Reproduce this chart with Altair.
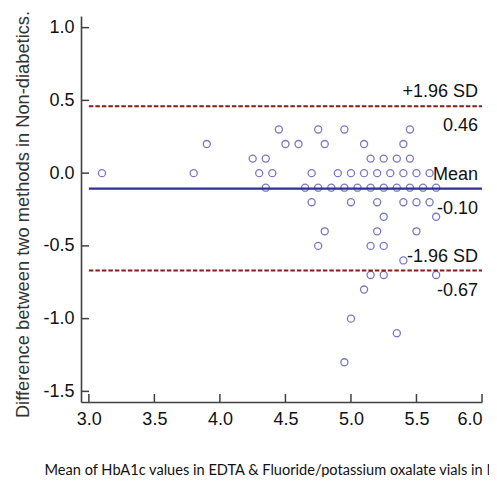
import altair as alt
import pandas as pd

# ---- data ----
pts_x = [4.45, 4.75, 4.95, 5.45,
         3.9, 4.5, 4.6, 4.8, 5.1, 5.4,
         4.25, 4.35, 5.15, 5.25, 5.35, 5.45,
         3.1, 3.8, 4.3, 4.4, 4.7, 4.9, 5.0, 5.1, 5.2, 5.3, 5.4, 5.5, 5.6,
         4.35, 4.65, 4.75, 4.85, 4.95, 5.05, 5.15, 5.25, 5.35, 5.45, 5.55, 5.65,
         4.7, 5.0, 5.2, 5.4, 5.5, 5.6,
         5.25, 5.65,
         4.8, 5.2, 5.5,
         4.75, 5.15, 5.25,
         5.4,
         5.15, 5.25, 5.65,
         5.1,
         5.0,
         5.35,
         4.95]
pts_y = [0.3, 0.3, 0.3, 0.3,
         0.2, 0.2, 0.2, 0.2, 0.2, 0.2,
         0.1, 0.1, 0.1, 0.1, 0.1, 0.1,
         0.0, 0.0, 0.0, 0.0, 0.0, 0.0, 0.0, 0.0, 0.0, 0.0, 0.0, 0.0, 0.0,
         -0.1, -0.1, -0.1, -0.1, -0.1, -0.1, -0.1, -0.1, -0.1, -0.1, -0.1, -0.1,
         -0.2, -0.2, -0.2, -0.2, -0.2, -0.2,
         -0.3, -0.3,
         -0.4, -0.4, -0.4,
         -0.5, -0.5, -0.5,
         -0.6,
         -0.7, -0.7, -0.7,
         -0.8,
         -1.0,
         -1.1,
         -1.3]

mean_val = -0.107
limit_vals = [0.46, -0.67]
line_x_start = 3.0
line_x_end = 6.0

label_texts = ["+1.96 SD", "0.46", "Mean", "-0.10", "-1.96 SD", "-0.67"]
label_y = [0.46, 0.46, mean_val, mean_val, -0.67, -0.67]
label_pos = ["above", "below", "above", "below", "above", "below"]

x_ticks = [3.0, 3.5, 4.0, 4.5, 5.0, 5.5, 6.0]
y_ticks = [1.0, 0.5, 0.0, -0.5, -1.0, -1.5]

x_title = "Mean of HbA1c values in EDTA & Fluoride/potassium oxalate vials in Non-diabetics."
y_title = "Difference between two methods in Non-diabetics."

# ---- layout ----
W, H = 401, 386
FONT = "Liberation Sans"
FS = 18
AXIS_COLOR = "#404040"

xscale = alt.Scale(domain=[2.94, 6.0], nice=False, zero=False)
yscale = alt.Scale(domain=[-1.573, 1.08], nice=False, zero=False)

minus_expr = "datum.value < 0 ? '-' + format(-datum.value, '.1f') : format(datum.value, '.1f')"

xaxis = alt.Axis(values=x_ticks, grid=False, ticks=False, domainColor=AXIS_COLOR,
                 domainWidth=1.6, labelFont=FONT, labelFontSize=FS,
                 labelColor="#111111", labelPadding=8, labelExpr=minus_expr,
                 title=x_title, titleFont="Lato", titleFontSize=14.6,
                 titleFontWeight="normal", titleColor="#111111",
                 titleAnchor="start", titleAlign="left", titleX=-37, titleY=72,
                 titleBaseline="alphabetic")
yaxis = alt.Axis(values=y_ticks, grid=False, ticks=False, domainColor=AXIS_COLOR,
                 domainWidth=1.6, labelFont=FONT, labelFontSize=FS,
                 labelColor="#111111", labelPadding=7, labelExpr=minus_expr,
                 title=y_title, titleFont="Liberation Sans", titleFontSize=18.3,
                 titleFontWeight="normal", titleColor="#333333",
                 titleAngle=270, titleAlign="center", titleBaseline="middle",
                 titleX=-58, titleY=198)

pts = pd.DataFrame({"x": pts_x, "y": pts_y})
points = alt.Chart(pts).mark_point(
    shape="circle", filled=False, size=50, strokeWidth=1.3, color="#4040aa"
).encode(
    x=alt.X("x:Q", scale=xscale, axis=xaxis),
    y=alt.Y("y:Q", scale=yscale, axis=yaxis),
)

mean_df = pd.DataFrame({"y": [mean_val], "x": [line_x_start], "x2": [line_x_end]})
mean_line = alt.Chart(mean_df).mark_rule(color="#2e3192", strokeWidth=2.2).encode(
    x=alt.X("x:Q", scale=xscale, axis=xaxis), x2="x2:Q",
    y=alt.Y("y:Q", scale=yscale, axis=yaxis))

lim_df = pd.DataFrame({"y": limit_vals, "x": [line_x_start] * 2, "x2": [line_x_end] * 2})
lim_lines = alt.Chart(lim_df).mark_rule(color="#8b1a1a", strokeWidth=2, strokeDash=[4.5, 2]).encode(
    x=alt.X("x:Q", scale=xscale, axis=xaxis), x2="x2:Q",
    y=alt.Y("y:Q", scale=yscale, axis=yaxis))

lab_df = pd.DataFrame({"t": label_texts, "y": label_y, "pos": label_pos})
labels_above = alt.Chart(lab_df).transform_filter("datum.pos == 'above'").mark_text(
    align="right", baseline="alphabetic", dy=-9, font=FONT, fontSize=FS, color="#111111"
).encode(x=alt.value(397), y=alt.Y("y:Q", scale=yscale, axis=yaxis), text="t:N")
labels_below = alt.Chart(lab_df).transform_filter("datum.pos == 'below'").mark_text(
    align="right", baseline="alphabetic", dy=25, font=FONT, fontSize=FS, color="#111111"
).encode(x=alt.value(397), y=alt.Y("y:Q", scale=yscale, axis=yaxis), text="t:N")

xt = pd.DataFrame({"t": x_ticks})
x_tick_marks = alt.Chart(xt).mark_rule(color=AXIS_COLOR, strokeWidth=1.5).encode(
    x=alt.X("t:Q", scale=xscale, axis=xaxis), y=alt.value(H), y2=alt.value(H - 8))
yt = pd.DataFrame({"t": y_ticks})
y_tick_marks = alt.Chart(yt).mark_rule(color=AXIS_COLOR, strokeWidth=1.5).encode(
    y=alt.Y("t:Q", scale=yscale, axis=yaxis), x=alt.value(0), x2=alt.value(8))

chart = alt.layer(
    points, lim_lines, mean_line, labels_above, labels_below, x_tick_marks, y_tick_marks
).properties(
    width=W, height=H,
    autosize=alt.AutoSizeParams(type="none"),
    padding={"left": 73, "top": 8, "right": 7, "bottom": 75},
    background="white",
).configure_view(strokeWidth=0)

chart.save("out.html", embed_options={"renderer": "svg", "actions": False})
